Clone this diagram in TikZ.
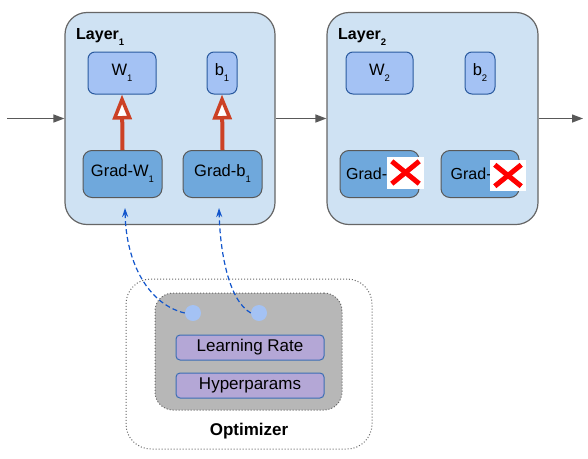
\documentclass[tikz,border=0pt]{standalone}
\usepackage{fontspec}
\setmainfont{Liberation Sans}
\usetikzlibrary{arrows.meta,calc}
\definecolor{layerfill}{HTML}{CFE2F3}
\definecolor{layerdraw}{HTML}{666666}
\definecolor{wfill}{HTML}{A4C2F4}
\definecolor{wdraw}{HTML}{2A5A9E}
\definecolor{gfill}{HTML}{6FA8DC}
\definecolor{gdraw}{HTML}{595959}
\definecolor{redarr}{HTML}{CC4125}
\definecolor{bluedash}{HTML}{1155CC}
\definecolor{grayfill}{HTML}{B7B7B7}
\definecolor{purp}{HTML}{B4A7D6}
\definecolor{purpdraw}{HTML}{3C6EB4}
\definecolor{arrgray}{HTML}{595959}
\newcommand\subsc[1]{\raisebox{-6pt}{\fontsize{9.5}{9.5}\selectfont #1}}
\tikzset{
  layerbox/.style={draw=layerdraw, fill=layerfill, line width=1.2pt, rounded corners=22pt, inner sep=0pt},
  parambox/.style={draw=wdraw, fill=wfill, line width=1pt, rounded corners=7pt, inner sep=0pt, font=\fontsize{16.5}{16.5}\selectfont},
  gradbox/.style={draw=gdraw, fill=gfill, line width=1pt, rounded corners=9pt, inner sep=0pt, font=\fontsize{16.5}{16.5}\selectfont},
  boxtext/.style={inner sep=0pt, font=\fontsize{16}{16}\selectfont},
  layerlabel/.style={inner sep=0pt, anchor=base west, font=\fontsize{16}{16}\selectfont\bfseries},
  redarrow/.style={draw=redarr, line width=4pt, -{Triangle[open, fill=white, length=25pt, width=19pt, line width=3.5pt]}},
  grayarrow/.style={draw=arrgray, line width=1.3pt, -{Triangle[length=11pt,width=8pt]}},
  dasharrow/.style={draw=bluedash, line width=1.2pt, dash pattern=on 5pt off 3pt, -{Stealth[length=9pt,width=6pt]}},
  xbox/.style={fill=white, inner sep=0pt},
  xline/.style={draw=red, line width=5pt},
  hbox/.style={draw=purpdraw, fill=purp, line width=1pt, rounded corners=4pt, inner sep=0pt, minimum width=148pt, minimum height=25pt, font=\fontsize{17}{17}\selectfont},
  dot/.style={circle, fill=wfill, minimum size=16pt, inner sep=0pt},
}
\begin{document}
\begin{tikzpicture}[x=1pt,y=-1pt]
\fill[white] (0,0) rectangle (588,458);
\useasboundingbox (0,0) rectangle (588,458);

% layers
\node[layerbox, minimum width=210pt, minimum height=212pt] (l1) at (170,118.5) {};
\node[layerbox, minimum width=211pt, minimum height=212pt] (l2) at (432.5,118.5) {};
\node[layerlabel] (l1lab) at (76,39) {Layer\subsc{1}};
\node[layerlabel] (l2lab) at (338,39) {Layer\subsc{2}};

% params
\node[parambox, minimum width=68pt, minimum height=42pt] (w1) at (122,73) {W\subsc{1}};
\node[parambox, minimum width=30pt, minimum height=42pt] (b1) at (222,73) {b\subsc{1}};
\node[parambox, minimum width=67pt, minimum height=42pt] (w2) at (379.5,73) {W\subsc{2}};
\node[parambox, minimum width=30pt, minimum height=42pt] (b2) at (480,73) {b\subsc{2}};

% grads
\node[gradbox, minimum width=79pt, minimum height=47pt] (gw1) at (122.5,174) {Grad-W\subsc{1}};
\node[gradbox, minimum width=79pt, minimum height=47pt] (gb1) at (222.5,174) {Grad-b\subsc{1}};
\node[gradbox, minimum width=79pt, minimum height=47pt] (gw2) at (379.5,174) {};
\node[gradbox, minimum width=78pt, minimum height=47pt] (gb2) at (480,174) {};
\node[boxtext, anchor=west] (gw2t) at ($(gw2.west)+(6.5,0)$) {Grad-};
\node[boxtext, anchor=west] (gb2t) at ($(gb2.west)+(10,0)$) {Grad-};

% X marks
\node[xbox, minimum width=37pt, minimum height=32pt] (x1) at (405.5,172.5) {};
\node[xbox, minimum width=36pt, minimum height=31pt] (x2) at (508,175.5) {};
\draw[xline] ([shift={(5,5)}]x1.north west) -- ([shift={(-5,-5)}]x1.south east);
\draw[xline] ([shift={(-5,5)}]x1.north east) -- ([shift={(5,-5)}]x1.south west);
\draw[xline] ([shift={(5,5)}]x2.north west) -- ([shift={(-5,-5)}]x2.south east);
\draw[xline] ([shift={(-5,5)}]x2.north east) -- ([shift={(5,-5)}]x2.south west);

% red update arrows
\draw[redarrow] (gw1.north) -- (w1.south);
\draw[redarrow] (gb1.north) -- (b1.south);

% flow arrows
\coordinate (in) at (7,118.5);
\coordinate (out) at (583,118.5);
\draw[grayarrow] (in) -- (l1.west);
\draw[grayarrow] (l1.east) -- (l2.west);
\draw[grayarrow] (l2.east) -- (out);

% optimizer
\node[draw=layerdraw, line width=1pt, dotted, rounded corners=25pt, minimum width=246pt, minimum height=170pt, inner sep=0pt] (opt) at (249,364) {};
\node[draw=layerdraw, fill=grayfill, line width=1pt, dotted, rounded corners=18pt, minimum width=187pt, minimum height=117pt, inner sep=0pt] (optin) at (248.5,351.5) {};
\node[hbox] (lr) at (250,347.5) {Learning Rate};
\node[hbox] (hp) at (250,385.5) {Hyperparams};
\node[inner sep=0pt, font=\fontsize{17}{17}\selectfont\bfseries] (optlab) at (249,431) {Optimizer};
\node[dot] (c1) at (193,313) {};
\node[dot] (c2) at (259,313) {};

% dashed arrows
\coordinate (t1) at (125,208);
\coordinate (t2) at (219,208);
\draw[dasharrow] (c1.west) .. controls (150,305) and (126,265) .. (t1);
\draw[dasharrow] (c2.west) .. controls (228,300) and (220,250) .. (t2);
\end{tikzpicture}
\end{document}
